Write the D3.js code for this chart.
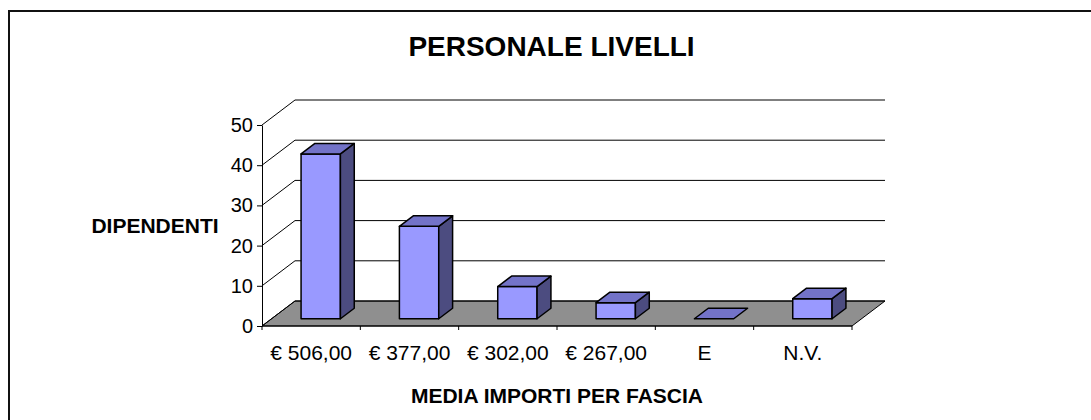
<!DOCTYPE html>
<html>
<head>
<meta charset="utf-8">
<script src="https://cdn.jsdelivr.net/npm/d3@7"></script>
<style>
  body { margin: 0; background: #fff; }
  svg { display: block; }
</style>
</head>
<body>
<svg id="chart" width="1091" height="420"></svg>
<script>
// Data
const categories = ["€ 506,00", "€ 377,00", "€ 302,00", "€ 267,00", "E", "N.V."];
const values = [41, 23, 8, 4, 0, 5];
const yTicks = [0, 10, 20, 30, 40, 50];

const font_family = "'Liberation Sans', Arial, sans-serif";
const depth = { dx: 33, dy: -25 };   // 3d offset of back wall
const barDepth = [0.29, 0.71];       // bars sit in the middle of the floor

const svg = d3.select("#chart");

// outer frame (runs off the right and bottom edges)
svg.append("rect")
  .attr("x", 9).attr("y", 11)
  .attr("width", 1110).attr("height", 430)
  .attr("fill", "none")
  .attr("stroke", "#111")
  .attr("stroke-width", 2);

// Scales (front plane)
const x = d3.scaleBand()
  .domain(categories)
  .range([262, 852])
  .paddingInner(0)
  .paddingOuter(0);

const xBar = d3.scaleBand()
  .domain(categories)
  .range([262, 852])
  .paddingInner(0.6)
  .paddingOuter(0.3);

const y = d3.scaleLinear()
  .domain([0, 50])
  .range([326, 125]);

const off = d => [depth.dx * d, depth.dy * d];
const pts = arr => arr.map(p => p.join(",")).join(" ");

const [x0, x1] = x.range();

// Floor
svg.append("polygon")
  .attr("points", pts([
    [x0, y(0)], [x1, y(0)],
    [x1 + depth.dx, y(0) + depth.dy], [x0 + depth.dx, y(0) + depth.dy]
  ]))
  .attr("fill", "#8f8f8f")
  .attr("stroke", "#000")
  .attr("stroke-width", 1);

// Gridlines: back wall + side wall diagonals
const grid = svg.append("g").attr("stroke", "#000").attr("stroke-width", 1);
yTicks.forEach(t => {
  grid.append("line")
    .attr("x1", x0 + depth.dx).attr("y1", y(t) + depth.dy)
    .attr("x2", x1 + depth.dx).attr("y2", y(t) + depth.dy);
  grid.append("line")
    .attr("x1", x0).attr("y1", y(t))
    .attr("x2", x0 + depth.dx).attr("y2", y(t) + depth.dy);
});

// Bars (front, top, side)
const bars = svg.append("g")
  .attr("stroke", "#000")
  .attr("stroke-width", 1.5)
  .attr("stroke-linejoin", "round");

categories.forEach((c, i) => {
  const v = values[i];
  const [fx, fy] = off(barDepth[0]);
  const [bx, by] = off(barDepth[1] - barDepth[0]);
  const left = xBar(c) + fx;
  const right = left + xBar.bandwidth();
  const bottom = y(0) + fy;
  const top = y(v) + fy;

  const g = bars.append("g");
  if (v > 0) {
    g.append("rect")
      .attr("x", left).attr("y", top)
      .attr("width", right - left).attr("height", bottom - top)
      .attr("fill", "#9999ff");
    g.append("polygon")
      .attr("points", pts([[right, top], [right + bx, top + by], [right + bx, bottom + by], [right, bottom]]))
      .attr("fill", "#4c4c80");
  }
  g.append("polygon")
    .attr("points", pts([[left, top], [right, top], [right + bx, top + by], [left + bx, top + by]]))
    .attr("fill", "#7373c8");
});

// Y axis
const yAxis = svg.append("g")
  .attr("transform", `translate(${x0},0)`)
  .call(d3.axisLeft(y).tickValues(yTicks).tickSize(5).tickSizeOuter(0).tickPadding(4));
yAxis.select(".domain").attr("stroke", "#000");
yAxis.selectAll("line").attr("stroke", "#000");
yAxis.selectAll("text")
  .attr("fill", "#000")
  .style("font-family", font_family)
  .style("font-size", "20px");

// X axis: line with ticks at category boundaries
const xAxis = svg.append("g");
xAxis.append("line")
  .attr("x1", x0).attr("x2", x1)
  .attr("y1", y(0)).attr("y2", y(0))
  .attr("stroke", "#000");
categories.concat([null]).forEach((c, i) => {
  const xt = c === null ? x1 : x(c);
  xAxis.append("line")
    .attr("x1", xt).attr("x2", xt)
    .attr("y1", y(0)).attr("y2", y(0) + 4)
    .attr("stroke", "#000");
});
xAxis.selectAll(".cat")
  .data(categories)
  .join("text")
  .attr("class", "cat")
  .attr("x", d => x(d) + x.bandwidth() / 2)
  .attr("y", 360)
  .attr("text-anchor", "middle")
  .attr("fill", "#000")
  .style("font-family", font_family)
  .style("font-size", "21px")
  .text(d => d);

// Titles
svg.append("text")
  .attr("x", 551.5).attr("y", 56)
  .attr("text-anchor", "middle")
  .style("font-family", font_family)
  .style("font-size", "28px")
  .style("font-weight", "bold")
  .text("PERSONALE LIVELLI");

svg.append("text")
  .attr("x", 155).attr("y", 233)
  .attr("text-anchor", "middle")
  .style("font-family", font_family)
  .style("font-size", "21px")
  .style("font-weight", "bold")
  .text("DIPENDENTI");

svg.append("text")
  .attr("x", (x0 + x1) / 2).attr("y", 403)
  .attr("text-anchor", "middle")
  .style("font-family", font_family)
  .style("font-size", "21px")
  .style("font-weight", "bold")
  .text("MEDIA IMPORTI PER FASCIA");
</script>
</body>
</html>
